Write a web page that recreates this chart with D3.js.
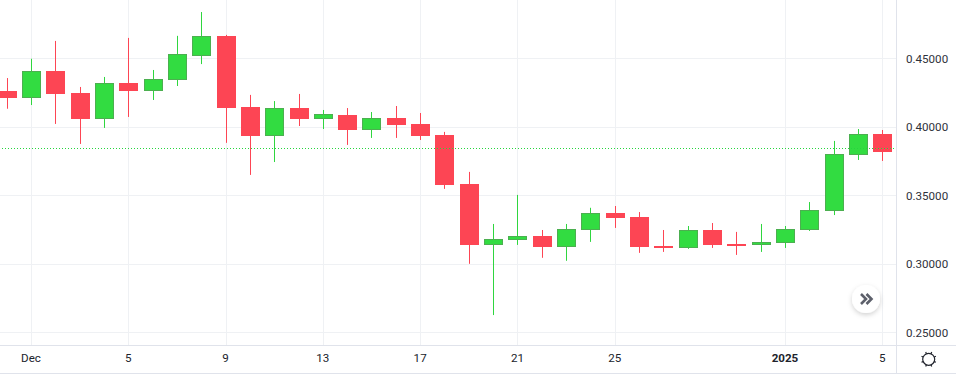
<!DOCTYPE html>
<html>
<head>
<meta charset="utf-8">
<script src="https://cdn.jsdelivr.net/npm/d3@7"></script>
<style>
  html, body { margin: 0; padding: 0; background: #fff; overflow: hidden; }
  text { font-family: Roboto, sans-serif; }
</style>
</head>
<body>
<svg id="chart" width="956" height="374"></svg>
<script>
const days = [
  "2024-11-30", "2024-12-01", "2024-12-02", "2024-12-03", "2024-12-04", "2024-12-05", "2024-12-06", "2024-12-07",
  "2024-12-08", "2024-12-09", "2024-12-10", "2024-12-11", "2024-12-12", "2024-12-13", "2024-12-14", "2024-12-15",
  "2024-12-16", "2024-12-17", "2024-12-18", "2024-12-19", "2024-12-20", "2024-12-21", "2024-12-22", "2024-12-23",
  "2024-12-24", "2024-12-25", "2024-12-26", "2024-12-27", "2024-12-28", "2024-12-29", "2024-12-30", "2024-12-31",
  "2025-01-01", "2025-01-02", "2025-01-03", "2025-01-04", "2025-01-05"
];
const opens = [
  0.4264, 0.4215, 0.4409, 0.4249, 0.4061, 0.4322, 0.4266, 0.4346,
  0.4522, 0.4666, 0.4146, 0.3936, 0.4139, 0.4059, 0.4088, 0.3979,
  0.4066, 0.4023, 0.3943, 0.3585, 0.3140, 0.3176, 0.3205, 0.3125,
  0.3249, 0.3373, 0.3343, 0.3133, 0.3120, 0.3249, 0.3147, 0.3140,
  0.3155, 0.3249, 0.3388, 0.3796, 0.3950
];
const highs = [
  0.4358, 0.4499, 0.4629, 0.4293, 0.4366, 0.4651, 0.4417, 0.4666,
  0.4840, 0.4673, 0.4235, 0.4190, 0.4242, 0.4125, 0.4139, 0.4110,
  0.4154, 0.4103, 0.3965, 0.3673, 0.3293, 0.3505, 0.3249, 0.3293,
  0.3411, 0.3424, 0.3380, 0.3249, 0.3278, 0.3300, 0.3235, 0.3293,
  0.3278, 0.3453, 0.3899, 0.3986, 0.3979
];
const lows = [
  0.4134, 0.4161, 0.4023, 0.3877, 0.3994, 0.4074, 0.4198, 0.4300,
  0.4460, 0.3885, 0.3651, 0.3745, 0.4008, 0.3986, 0.3870, 0.3921,
  0.3921, 0.3906, 0.3549, 0.3002, 0.2628, 0.3140, 0.3046, 0.3024,
  0.3162, 0.3264, 0.3082, 0.3089, 0.3111, 0.3118, 0.3067, 0.3089,
  0.3118, 0.3242, 0.3358, 0.3760, 0.3753
];
const closes = [
  0.4215, 0.4409, 0.4242, 0.4061, 0.4322, 0.4264, 0.4349, 0.4535,
  0.4666, 0.4139, 0.3936, 0.4139, 0.4059, 0.4096, 0.3979, 0.4066,
  0.4016, 0.3936, 0.3578, 0.3140, 0.3184, 0.3205, 0.3125, 0.3256,
  0.3373, 0.3336, 0.3125, 0.3118, 0.3249, 0.3140, 0.3140, 0.3162,
  0.3256, 0.3395, 0.3804, 0.3950, 0.3818
];
const priceTicks = [0.25, 0.30, 0.35, 0.40, 0.45];
const dateTicks = ["2024-12-01", "2024-12-05", "2024-12-09", "2024-12-13", "2024-12-17", "2024-12-21", "2024-12-25", "2025-01-01", "2025-01-05"];
const dateLabels = ["Dec", "5", "9", "13", "17", "21", "25", "2025", "5"];
const lastPrice = 0.3844;

const svg = d3.select("#chart");
const plotRight = 896;
const plotBottom = 345;

const parseDay = d3.utcParse("%Y-%m-%d");

const x = d3.scaleUtc()
  .domain([parseDay(days[0]), parseDay(days[days.length - 1])])
  .range([7.2, 882.7]);

const y = d3.scaleLinear()
  .domain([0.25, 0.45])
  .range([332.6, 58.6]);

const snap = v => Math.round(v - 0.5) + 0.5;
const upFill = "#32dc41", upBorder = "#4caf50", upWick = "#2fd63f";
const downFill = "#fd4554";
const gridColor = "#eff1f4", panelColor = "#e0e3eb";

// Grid
const plot = svg.append("g");
plot.selectAll(".hgrid")
  .data(priceTicks)
  .enter()
  .append("line")
  .attr("x1", 0)
  .attr("x2", plotRight)
  .attr("y1", d => snap(y(d)))
  .attr("y2", d => snap(y(d)))
  .attr("stroke", gridColor);

plot.selectAll(".vgrid")
  .data(dateTicks)
  .enter()
  .append("line")
  .attr("x1", d => snap(x(parseDay(d))))
  .attr("x2", d => snap(x(parseDay(d))))
  .attr("y1", 0)
  .attr("y2", plotBottom)
  .attr("stroke", gridColor);

// Candles
const candles = days.map((d, i) => ({
  day: parseDay(d), open: opens[i], high: highs[i], low: lows[i], close: closes[i]
}));
const isUp = d => d.close >= d.open;

plot.selectAll(".wick")
  .data(candles)
  .enter()
  .append("line")
  .attr("x1", d => snap(x(d.day)))
  .attr("x2", d => snap(x(d.day)))
  .attr("y1", d => y(d.high))
  .attr("y2", d => y(d.low))
  .attr("stroke", d => isUp(d) ? upWick : downFill);

plot.selectAll(".body")
  .data(candles)
  .enter()
  .append("rect")
  .attr("x", d => snap(x(d.day)) - 9)
  .attr("width", 18)
  .attr("y", d => Math.round(y(Math.max(d.open, d.close))) + 0.5)
  .attr("height", d => Math.max(1, Math.round(y(Math.min(d.open, d.close))) - Math.round(y(Math.max(d.open, d.close))) - 1))
  .attr("fill", d => isUp(d) ? upFill : downFill)
  .attr("stroke", d => isUp(d) ? upBorder : downFill);

// Last price line
svg.append("line")
  .attr("x1", 2)
  .attr("x2", plotRight)
  .attr("y1", snap(y(lastPrice)))
  .attr("y2", snap(y(lastPrice)))
  .attr("stroke", "#26d63d")
  .attr("stroke-dasharray", "1,2");

// Panel borders
svg.append("rect").attr("x", plotRight).attr("y", 0).attr("width", 60).attr("height", 374).attr("fill", "#fff");
svg.append("rect").attr("x", 0).attr("y", plotBottom).attr("width", 956).attr("height", 29).attr("fill", "#fff");

// Y Axis
const yAxis = svg.append("g")
  .attr("transform", `translate(${plotRight},0)`)
  .call(d3.axisRight(y).tickValues(priceTicks).tickFormat(d3.format(".5f")).tickSize(0).tickPadding(10));
yAxis.select(".domain").remove();
yAxis.selectAll("text")
  .style("font-size", "11.6px")
  .style("font-family", "Roboto, sans-serif")
  .attr("fill", "#2f323b");

// X Axis
const xAxis = svg.append("g")
  .attr("transform", `translate(-1,${plotBottom})`)
  .call(d3.axisBottom(x)
    .tickValues(dateTicks.map(parseDay))
    .tickFormat((d, i) => dateLabels[i])
    .tickSize(0)
    .tickPadding(9));
xAxis.select(".domain").remove();
xAxis.selectAll("text")
  .style("font-size", "11.6px")
  .style("font-family", "Roboto, sans-serif")
  .style("font-weight", (d, i) => dateLabels[i] === "2025" ? "700" : "400")
  .attr("fill", "#20232c");

svg.append("line").attr("x1", 0).attr("x2", 956).attr("y1", plotBottom + 0.5).attr("y2", plotBottom + 0.5).attr("stroke", panelColor);
svg.append("line").attr("x1", 0).attr("x2", 956).attr("y1", 373.5).attr("y2", 373.5).attr("stroke", panelColor);
svg.append("line").attr("x1", plotRight + 0.5).attr("x2", plotRight + 0.5).attr("y1", 0).attr("y2", 374).attr("stroke", panelColor);

// Scroll to latest button
const defs = svg.append("defs");
const shadow = defs.append("filter").attr("id", "btnShadow").attr("x", "-40%").attr("y", "-40%").attr("width", "180%").attr("height", "180%");
shadow.append("feDropShadow").attr("dx", 0).attr("dy", 2).attr("stdDeviation", 2.5).attr("flood-color", "#000").attr("flood-opacity", 0.18);

const btn = svg.append("g").attr("transform", "translate(866,299)");
btn.append("circle").attr("r", 14).attr("fill", "#fff").attr("filter", "url(#btnShadow)");
btn.append("path")
  .attr("d", "M-5,-5 L0,0 L-5,5 M0.5,-5 L5.5,0 L0.5,5")
  .attr("fill", "none")
  .attr("stroke", "#5d606b")
  .attr("stroke-width", 2.6);

// Settings gear
const gear = svg.append("g").attr("transform", "translate(928.7,359.3)");
gear.append("circle").attr("r", 6).attr("fill", "none").attr("stroke", "#20232c").attr("stroke-width", 1.2);
gear.selectAll("line")
  .data(d3.range(8))
  .enter()
  .append("line")
  .attr("x1", d => 6 * Math.cos(d * Math.PI / 4 + Math.PI / 8))
  .attr("y1", d => 6 * Math.sin(d * Math.PI / 4 + Math.PI / 8))
  .attr("x2", d => 7.8 * Math.cos(d * Math.PI / 4 + Math.PI / 8))
  .attr("y2", d => 7.8 * Math.sin(d * Math.PI / 4 + Math.PI / 8))
  .attr("stroke", "#20232c")
  .attr("stroke-width", 1.2);
</script>
</body>
</html>
